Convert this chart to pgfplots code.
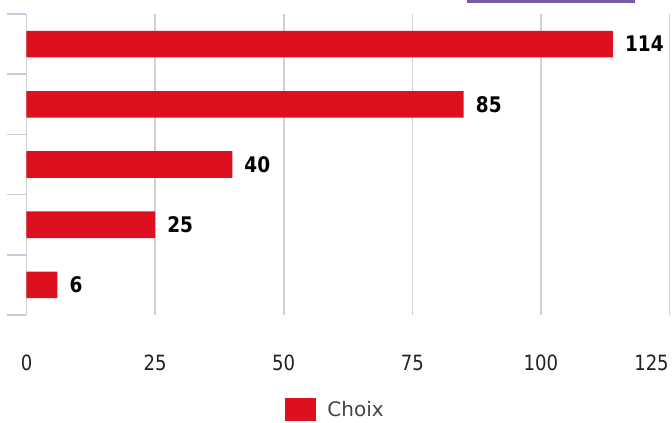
\documentclass[border=0pt]{standalone}
\usepackage{fontspec}
\setmainfont{DejaVu Sans}[FakeStretch=0.86]
\newfontfamily\legfont{DejaVu Sans}
\usepackage{pgfplots}
\pgfplotsset{compat=1.18}
\definecolor{barred}{RGB}{220,16,30}
\definecolor{gridgray}{RGB}{208,208,208}
\definecolor{ytickblue}{RGB}{192,208,226}
\definecolor{topline}{RGB}{120,90,160}
\begin{document}
\begin{tikzpicture}[x=1pt,y=1pt]
\useasboundingbox (0,0) rectangle (672,423);
\fill[topline] (467,420) rectangle (635,423);
\begin{axis}[
  at={(26.5pt,108pt)}, anchor=south west,
  scale only axis, width=643pt, height=301pt,
  xbar, bar width=26.6pt,
  xmin=0, xmax=125, ymin=-0.5, ymax=4.5,
  axis line style={draw=none},
  xtick={0,25,50,75,100},
  extra x ticks={125},
  extra x tick style={xticklabel style={xshift=-18pt}},
  xmajorgrids, major x grid style={gridgray, line width=1.6pt},
  xtick style={draw=none},
  xticklabel style={anchor=center, yshift=-29pt, text=black!87, font=\fontsize{21}{25}\selectfont},
  /pgf/number format/assume math mode=true,
  ytick={-0.5,0.5,1.5,2.5,3.5,4.5},
  yticklabels={},
  ytick pos=left,
  tick align=outside,
  major tick length=19pt,
  ytick style={ytickblue, line width=1.5pt},
  nodes near coords,
  nodes near coords style={anchor=west, inner sep=0pt, xshift=12pt, text=black, font=\bfseries\fontsize{21.5}{25}\selectfont},
  legend style={draw=none, fill=none, at={(0.4023,-0.314)}, anchor=west, inner sep=0pt,
    font=\legfont\fontsize{20}{24}\selectfont, text=black!73},
  legend image code/.code={\fill[barred] (0pt,-11.5pt) rectangle (31pt,11.5pt); \path (40pt,0pt);},
]
\addplot[fill=barred, draw=none] coordinates {(6,0) (25,1) (40,2) (85,3) (114,4)};
\addlegendentry{Choix}
\end{axis}
\end{tikzpicture}
\end{document}
